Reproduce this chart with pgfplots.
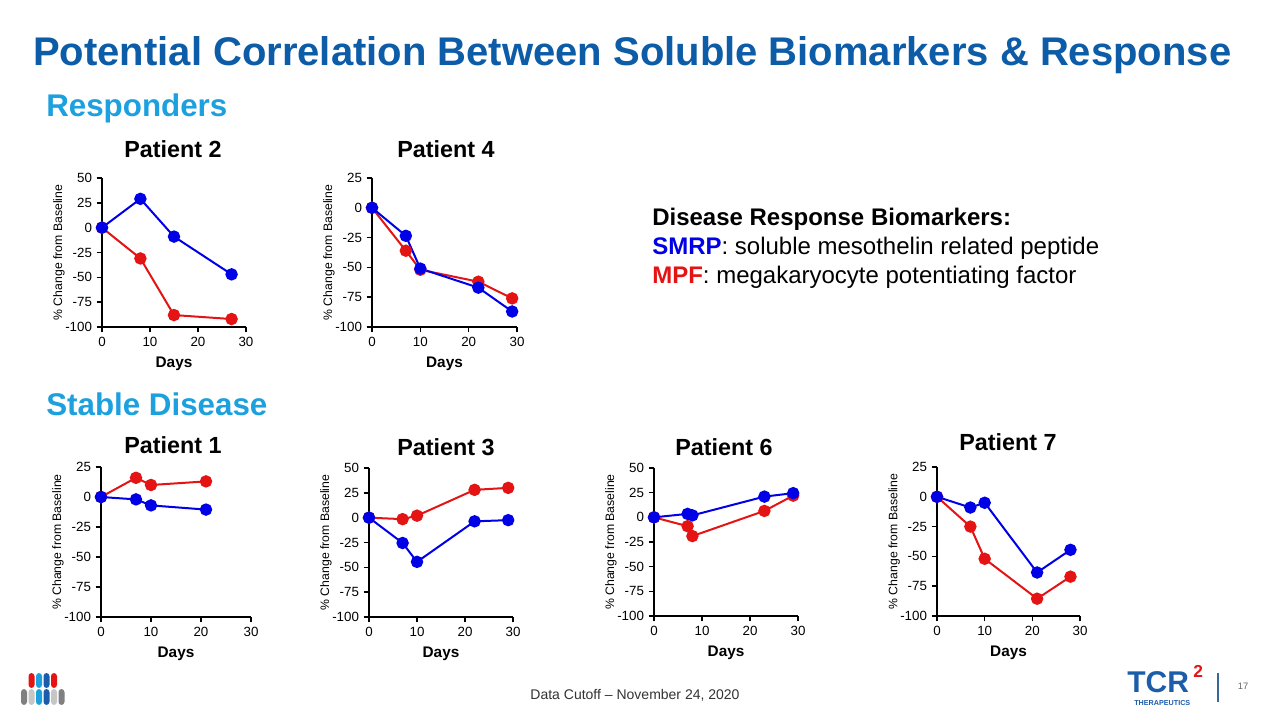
\documentclass[border=0pt]{standalone}
\usepackage{fontspec}
\setmainfont{Liberation Sans}
\usepackage{pgfplots}
\pgfplotsset{compat=1.18}
\definecolor{titleblue}{RGB}{12,92,168}
\definecolor{subblue}{RGB}{28,160,222}
\definecolor{sblue}{RGB}{0,0,230}
\definecolor{sred}{RGB}{228,20,20}
\definecolor{logoblue}{RGB}{27,93,170}
\pgfplotsset{
  panel/.style={
    scale only axis, anchor=south west, clip=false,
    axis lines=left, axis line style={-, line width=1.5pt, black},
    xmin=0, xmax=30, xtick={0,10,20,30},
    tick style={black, line width=1.2pt}, tick align=outside, major tick length=4pt,
    ticklabel style={font=\fontsize{10}{11}\selectfont},
    /pgf/number format/assume math mode=true,
    ylabel={\% Change from Baseline},
    ylabel style={font=\fontsize{9.2}{10}\selectfont, yshift=-6.5pt},
    xlabel={Days},
    xlabel style={font=\bfseries\fontsize{11.5}{13}\selectfont, yshift=-1pt},
  },
  ser/.style={color=#1, line width=1.5pt, mark=*, mark size=3.9pt, mark options={fill=#1, draw=#1}},
}
\begin{document}
\begin{tikzpicture}[x=0.75pt, y=0.75pt]
\fill[white] (0,0) rectangle (1280,720);
\path[use as bounding box] (0,0) rectangle (1280,720);

% Title and section headings
\node[anchor=west, inner sep=0, text=titleblue, font=\bfseries\fontsize{30}{34}\selectfont] at (33,665) {Potential Correlation Between Soluble Biomarkers \& Response};
\node[anchor=west, inner sep=0, text=subblue, font=\bfseries\fontsize{23.5}{27}\selectfont] at (46,612) {Responders};
\node[anchor=west, inner sep=0, text=subblue, font=\bfseries\fontsize{23.5}{27}\selectfont] at (46,316) {Stable Disease};

% Patient titles
\begin{scope}[every node/.style={inner sep=0, font=\bfseries\fontsize{17.5}{20}\selectfont}]
\node at (173,571) {Patient 2};
\node at (446,571) {Patient 4};
\node at (173,275) {Patient 1};
\node at (446,273) {Patient 3};
\node at (724,273) {Patient 6};
\node at (1008,278) {Patient 7};
\end{scope}

% Legend text
\node[anchor=base west, inner sep=0, font=\fontsize{18}{21}\selectfont] at (652,494) {\textbf{Disease Response Biomarkers:}};
\node[anchor=base west, inner sep=0, font=\fontsize{18}{21}\selectfont] at (652,465) {\textbf{\textcolor{sblue}{SMRP}}: soluble mesothelin related peptide};
\node[anchor=base west, inner sep=0, font=\fontsize{18}{21}\selectfont] at (652,436) {\textbf{\textcolor{sred}{MPF}}: megakaryocyte potentiating factor};

% Patient 2
\begin{axis}[panel, at={(102*0.75pt,393*0.75pt)}, width=108pt, height=111.75pt,
  ymin=-100, ymax=50, ytick={-100,-75,-50,-25,0,25,50}]
\addplot[ser=sred] coordinates {(0,0) (8,-31) (15,-88) (27,-92)};
\addplot[ser=sblue] coordinates {(0,0) (8,29) (15,-9) (27,-47)};
\end{axis}

% Patient 4
\begin{axis}[panel, at={(372*0.75pt,393*0.75pt)}, width=108.75pt, height=111.75pt,
  ymin=-100, ymax=25, ytick={-100,-75,-50,-25,0,25}]
\addplot[ser=sred] coordinates {(0,0) (7,-36) (10,-52) (22,-62) (29,-76)};
\addplot[ser=sblue] coordinates {(0,0) (7,-23.5) (10,-51) (22,-67) (29,-87)};
\end{axis}

% Patient 1
\begin{axis}[panel, at={(101*0.75pt,103*0.75pt)}, width=112.5pt, height=112.5pt,
  ymin=-100, ymax=25, ytick={-100,-75,-50,-25,0,25}]
\addplot[ser=sred] coordinates {(0,0) (7,16) (10,10) (21,13)};
\addplot[ser=sblue] coordinates {(0,0) (7,-2) (10,-7) (21,-10.5)};
\end{axis}

% Patient 3
\begin{axis}[panel, at={(369*0.75pt,103*0.75pt)}, width=108pt, height=111.75pt,
  ymin=-100, ymax=50, ytick={-100,-75,-50,-25,0,25,50}]
\addplot[ser=sred] coordinates {(0,0) (7,-1.5) (10,2) (22,28) (29,30)};
\addplot[ser=sblue] coordinates {(0,0) (7,-25.5) (10,-44.5) (22,-3.7) (29,-2.5)};
\end{axis}

% Patient 6
\begin{axis}[panel, at={(654*0.75pt,104*0.75pt)}, width=108pt, height=111pt,
  ymin=-100, ymax=50, ytick={-100,-75,-50,-25,0,25,50}]
\addplot[ser=sred] coordinates {(0,0) (7,-9) (8,-19) (23,6.5) (29,22)};
\addplot[ser=sblue] coordinates {(0,0) (7,3.5) (8,2) (23,21) (29,24.5)};
\end{axis}

% Patient 7
\begin{axis}[panel, at={(937*0.75pt,104*0.75pt)}, width=107.25pt, height=111.75pt,
  ymin=-100, ymax=25, ytick={-100,-75,-50,-25,0,25}]
\addplot[ser=sred] coordinates {(0,0) (7,-25) (10,-52) (21,-85.5) (28,-67)};
\addplot[ser=sblue] coordinates {(0,0) (7,-9) (10,-5) (21,-63.5) (28,-44.5)};
\end{axis}

% Footer
\node[inner sep=0, text=black!80, font=\fontsize{10.5}{12}\selectfont] at (635,25) {Data Cutoff – November 24, 2020};
\node[inner sep=0, text=black!60, font=\fontsize{7}{8}\selectfont] at (1243,34) {17};
\draw[logoblue!70!gray, line width=0.9pt] (1218,18) -- (1218,47);
\node[anchor=base west, inner sep=0, text=logoblue, font=\bfseries\fontsize{22.5}{24}\selectfont] at (1127,27) {TCR};
\node[anchor=base west, inner sep=0, text=sred, font=\bfseries\fontsize{13}{14}\selectfont] at (1193,42) {2};
\node[anchor=base west, inner sep=0, text=logoblue, font=\bfseries\fontsize{5.4}{6}\selectfont] at (1134,14) {THERAPEUTICS};

% Left logo pills
\begin{scope}[rounded corners=2.4pt]
\fill[sred] (28.5,32) rectangle (34.5,47);
\fill[subblue] (36,32) rectangle (42,47);
\fill[logoblue] (43.5,32) rectangle (49.5,47);
\fill[sred] (51,32) rectangle (57,47);
\fill[gray] (21,15) rectangle (27,31);
\fill[gray!45] (28.5,15) rectangle (34.5,31);
\fill[subblue] (36,15) rectangle (42,31);
\fill[logoblue] (43.5,15) rectangle (49.5,31);
\fill[gray!45] (51,15) rectangle (57,31);
\fill[gray] (58.5,15) rectangle (64.5,31);
\end{scope}
\end{tikzpicture}
\end{document}
